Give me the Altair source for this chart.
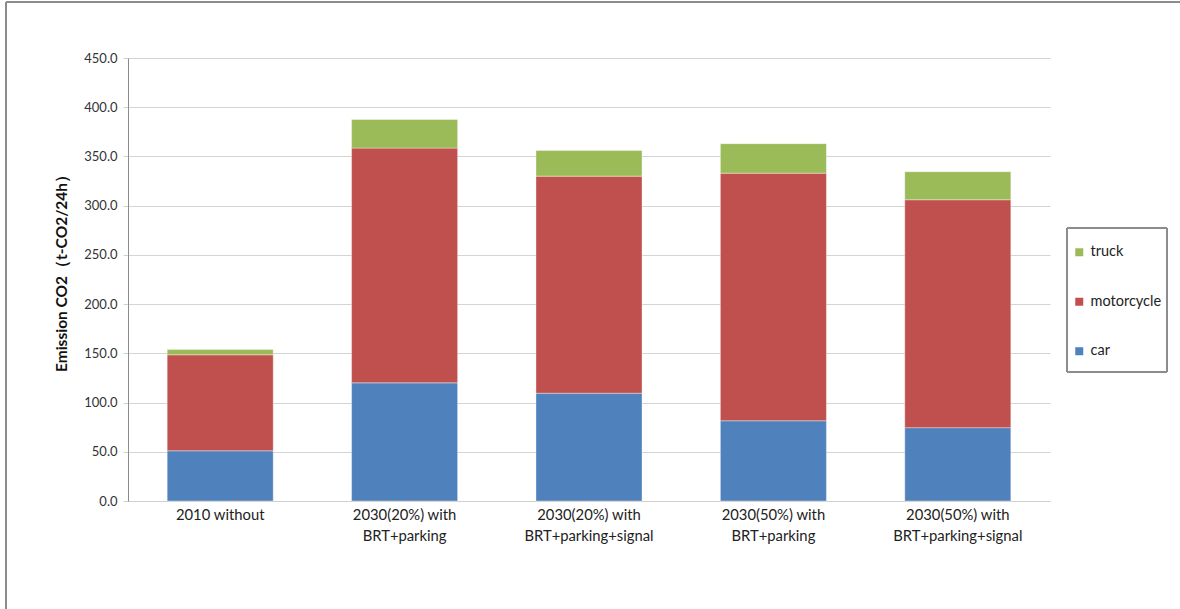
import altair as alt
import pandas as pd

scenarios = [
    "2010 without",
    "2030(20%) with\nBRT+parking",
    "2030(20%) with\nBRT+parking+signal",
    "2030(50%) with\nBRT+parking",
    "2030(50%) with\nBRT+parking+signal",
]
vehicle_types = ["car", "motorcycle", "truck"]
car = [51.0, 120.0, 109.5, 81.5, 74.5]
motorcycle = [97.5, 238.5, 220.5, 251.5, 231.5]
truck = [5.5, 29.0, 26.0, 30.0, 28.5]
colors = ["#4F81BD", "#C0504D", "#9BBB59"]
y_ticks = [0, 50, 100, 150, 200, 250, 300, 350, 400, 450]

rows = []
for i, s in enumerate(scenarios):
    for k, (t, vals) in enumerate(zip(vehicle_types, [car, motorcycle, truck])):
        rows.append({"scenario": s, "type": t, "value": vals[i], "order": k})
df = pd.DataFrame(rows)

FONT = "Lato"

bars = alt.Chart(df).mark_bar(stroke="white", strokeWidth=0.6, strokeOpacity=0.6).encode(
    x=alt.X("scenario:N", sort=scenarios, title=None,
            scale=alt.Scale(paddingInner=0.425, paddingOuter=0.2125),
            axis=alt.Axis(labelExpr="split(datum.value, '\\n')", labelAngle=0,
                          labelPadding=14, labelLineHeight=21, labelFontSize=14.8,
                          labelColor="#222222", ticks=False, domainColor="#D0D0D0",
                          labelFont=FONT, labelBaseline="middle")),
    y=alt.Y("value:Q", stack="zero",
            title="Emission  CO2（t-CO2/24h）",
            scale=alt.Scale(domain=[0, 450], nice=False),
            axis=alt.Axis(values=y_ticks, format=".1f", tickSize=5, tickColor="#D0D0D0",
                          domainColor="#8C8C8C", gridColor="#D4D4D4", labelPadding=6,
                          labelFontSize=13, labelColor="#333333", labelFont=FONT,
                          titleFont=FONT, titleFontSize=15.5, titleFontWeight="bold",
                          titleColor="#111111", titlePadding=14, titleY=211)),
    color=alt.Color("type:N", sort=vehicle_types,
                    scale=alt.Scale(domain=vehicle_types, range=colors),
                    legend=alt.Legend(title=None, orient="none", legendX=944, legendY=187,
                                      direction="vertical", symbolType="square",
                                      symbolSize=64, symbolStrokeWidth=0, labelOffset=4,
                                      labelFontSize=14.5, labelFont=FONT, labelColor="#222222",
                                      rowPadding=34.5, padding=0,
                                      labelLimit=200, values=["truck", "motorcycle", "car"])),
    order=alt.Order("order:Q", sort="ascending"),
)

legend_frame = alt.Chart(df).mark_rect(fill=None, stroke="#8C8C8C", strokeWidth=1).encode(
    x=alt.value(939), x2=alt.value(1039), y=alt.value(170), y2=alt.value(314))
border_left = alt.Chart(df).mark_rule(color="#8C8C8C", strokeWidth=1.5).encode(
    x=alt.value(-122), y=alt.value(-56), y2=alt.value(560))
border_top = alt.Chart(df).mark_rule(color="#8C8C8C", strokeWidth=1.5).encode(
    x=alt.value(-122), x2=alt.value(1060), y=alt.value(-56))

chart = alt.layer(bars, legend_frame, border_left, border_top).properties(
    width=922, height=443,
    autosize=alt.AutoSizeParams(type="none"),
    padding={"left": 128, "top": 58, "right": 130, "bottom": 108},
    background="white",
).configure_view(stroke=None)

chart.save("out.html", embed_options={"renderer": "svg", "actions": False})
